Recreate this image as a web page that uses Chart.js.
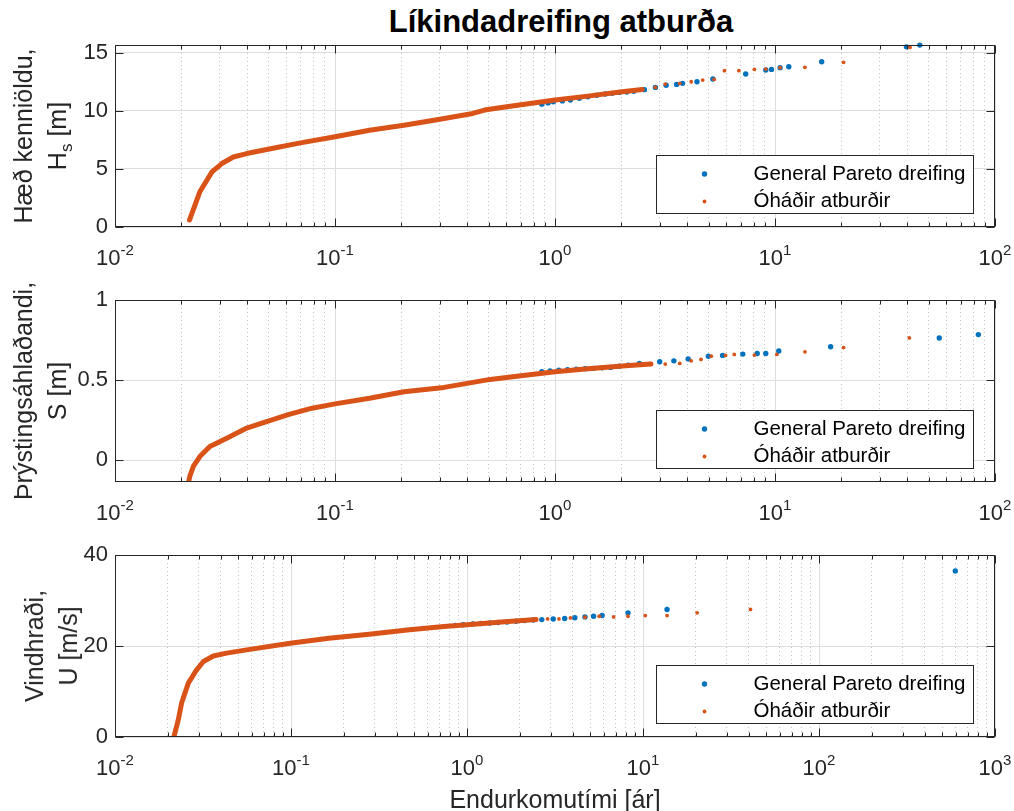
<!DOCTYPE html>
<html>
<head>
<meta charset="utf-8">
<script src="https://cdn.jsdelivr.net/npm/chart.js@4.4.0/dist/chart.umd.min.js"></script>
<style>
  body { margin: 0; background: #fff; width: 1014px; height: 811px; position: relative; overflow: hidden;
         font-family: "Liberation Sans", Arial, sans-serif; }
  canvas { position: absolute; left: 0; top: 0; }
  #title { position: absolute; left: 261px; top: 4px; width: 600px; text-align: center;
           font-weight: bold; font-size: 31px; line-height: 36px; color: #000; }
  #xlab { position: absolute; left: 355px; top: 785px; width: 400px; text-align: center;
          font-size: 25px; line-height: 28px; color: #262626; }
  .ylab { position: absolute; transform: translate(-50%, -50%) rotate(-90deg); white-space: nowrap;
          text-align: center; font-size: 25px; line-height: 34px; color: #262626; }
  .sub { font-size: 17px; vertical-align: -6px; line-height: 0; }
</style>
</head>
<body>
<div id="title">Líkindadreifing atburða</div>
<canvas id="hsChart" width="1014" height="811"></canvas>
<canvas id="sChart" width="1014" height="811"></canvas>
<canvas id="uChart" width="1014" height="811"></canvas>
<div class="ylab" style="left:40px;top:136px">Hæð kenniöldu,<br>H<span class="sub">s</span> [m]</div>
<div class="ylab" style="left:40px;top:391px">Þrýstingsáhlaðandi,<br>S [m]</div>
<div class="ylab" style="left:51px;top:646px">Vindhraði,<br>U [m/s]</div>
<div id="xlab">Endurkomutími [ár]</div>

<script>
// --- gögn lesin af myndinni ---
const legendLabels = ['General Pareto dreifing', 'Óháðir atburðir'];

// Hæð kenniöldu Hs [m]
const hsLineT = [0.0218, 0.0243, 0.0276, 0.0306, 0.0345, 0.0397, 0.0516, 0.0697, 0.1, 0.1435, 0.2057, 0.295, 0.423, 0.478, 0.571, 0.727, 1.0, 1.41, 2.02, 2.49];
const hsLineV = [0.6, 3.03, 4.74, 5.46, 6.02, 6.32, 6.75, 7.24, 7.76, 8.33, 8.76, 9.25, 9.77, 10.06, 10.29, 10.57, 10.92, 11.26, 11.64, 11.84];
const hsObsT = [2.86, 3.17, 3.69, 4.16, 4.69, 5.29, 5.89, 6.85, 8.06, 9.08, 10.55, 13.67, 20.5, 41.1];
const hsObsV = [12.01, 12.30, 12.36, 12.50, 12.64, 12.70, 13.45, 13.45, 13.56, 13.59, 13.71, 13.74, 14.17, 15.45];
const hsGpdT = [0.871, 0.93, 0.982, 1.08, 1.175, 1.29, 1.41, 1.55, 1.69, 1.82, 1.96, 2.12, 2.28, 2.55, 2.86, 3.2, 3.57, 3.8, 4.42, 5.22, 7.36, 9.08, 9.64, 10.55, 11.55, 16.3, 39.6, 45.5];
const hsGpdV = [10.57, 10.68, 10.78, 10.85, 10.92, 11.08, 11.21, 11.33, 11.44, 11.5, 11.58, 11.62, 11.67, 11.82, 12.01, 12.2, 12.27, 12.36, 12.5, 12.73, 13.16, 13.51, 13.56, 13.71, 13.79, 14.22, 15.5, 15.65];
const hsYTicks = [0, 5, 10, 15];

// Þrýstingsáhlaðandi S [m]
const sLineT = [0.0216, 0.0219, 0.0227, 0.0243, 0.027, 0.0322, 0.0397, 0.0458, 0.0618, 0.0787, 0.1, 0.1435, 0.2057, 0.313, 0.399, 0.507, 0.685, 1.0, 1.41, 2.02, 2.73];
const sLineV = [-0.137, -0.10, -0.04, 0.022, 0.085, 0.137, 0.20, 0.228, 0.285, 0.324, 0.351, 0.386, 0.427, 0.454, 0.479, 0.504, 0.525, 0.552, 0.571, 0.587, 0.600];
const sObsT = [3.17, 3.69, 4.16, 4.61, 5.13, 5.96, 6.53, 8.06, 10.2, 13.68, 20.5, 40.8];
const sObsV = [0.600, 0.604, 0.620, 0.629, 0.649, 0.654, 0.660, 0.656, 0.660, 0.676, 0.703, 0.763];
const sGpdT = [0.871, 0.95, 1.04, 1.14, 1.25, 1.37, 1.5, 1.64, 1.79, 1.96, 2.15, 2.42, 2.99, 3.47, 4.03, 4.98, 5.78, 7.14, 8.3, 9.08, 10.4, 17.9, 55.8, 84.0];
const sGpdV = [0.552, 0.557, 0.562, 0.565, 0.568, 0.571, 0.573, 0.576, 0.579, 0.586, 0.593, 0.604, 0.614, 0.620, 0.631, 0.649, 0.654, 0.662, 0.666, 0.666, 0.681, 0.708, 0.763, 0.784];
const sYTicks = [0, 0.5, 1];

// Vindhraði U [m/s]
const uLineT = [0.0216, 0.0229, 0.0239, 0.0261, 0.0291, 0.0318, 0.0362, 0.0431, 0.056, 0.099, 0.164, 0.278, 0.471, 0.74, 1.0, 1.57, 2.47];
const uLineV = [0, 3.8, 7.46, 11.85, 14.77, 16.59, 17.8, 18.43, 19.15, 20.59, 21.71, 22.6, 23.57, 24.31, 24.68, 25.28, 25.8];
const uObsT = [2.87, 3.33, 3.87, 4.68, 5.64, 6.81, 8.22, 10.3, 13.7, 20.3, 40.8];
const uObsV = [25.95, 25.95, 26.17, 26.32, 26.54, 26.40, 26.54, 26.69, 26.69, 27.29, 28.03];
const uGpdT = [0.86, 0.95, 1.08, 1.2, 1.35, 1.5, 1.69, 1.9, 2.12, 2.38, 2.66, 3.09, 3.59, 4.1, 4.68, 5.24, 5.86, 8.22, 13.7, 595];
const uGpdV = [24.53, 24.68, 24.83, 24.95, 25.06, 25.17, 25.28, 25.43, 25.58, 25.7, 25.80, 25.95, 26.03, 26.2, 26.40, 26.54, 26.69, 27.29, 28.03, 36.5];
const uYTicks = [0, 20, 40];

const xExpShort = [-2, -1, 0, 1, 2];
const xExpLong = [-2, -1, 0, 1, 2, 3];

const BLUE = '#0072BD';
const ORANGE = '#D95319';
const AXIS = '#262626';
const FONT = '"Liberation Sans", Arial, sans-serif';

const zip = (xs, ys) => xs.map((x, i) => ({ x: x, y: ys[i] }));
const isDecade = v => Math.abs(Math.log10(v) - Math.round(Math.log10(v))) < 1e-6;

function logTicks(exps) {
  const out = [];
  for (let i = 0; i < exps.length; i++) {
    const p = Math.pow(10, exps[i]);
    out.push(p);
    if (i < exps.length - 1) for (let m = 2; m <= 9; m++) out.push(m * p);
  }
  return out;
}

// MATLAB-legur rammi, strik, 10^n merki og skýringarkassi
function matlabLook(exps) {
  return {
    id: 'matlabLook',
    afterDraw(chart) {
      const { ctx, chartArea: a, scales: { x, y } } = chart;
      ctx.save();
      ctx.strokeStyle = AXIS;
      ctx.lineWidth = 1;
      const L = Math.round(a.left) + 0.5, R = Math.round(a.right) - 0.5;
      const T = Math.round(a.top) + 0.5, B = Math.round(a.bottom) - 0.5;
      ctx.strokeRect(L, T, R - L, B - T);

      ctx.beginPath();
      x.ticks.forEach(t => {
        const px = Math.round(x.getPixelForValue(t.value)) + 0.5;
        const len = isDecade(t.value) ? 8 : 4;
        ctx.moveTo(px, B); ctx.lineTo(px, B - len);
        ctx.moveTo(px, T); ctx.lineTo(px, T + len);
      });
      y.ticks.forEach(t => {
        const py = Math.round(y.getPixelForValue(t.value)) + 0.5;
        ctx.moveTo(L, py); ctx.lineTo(L + 8, py);
        ctx.moveTo(R, py); ctx.lineTo(R - 8, py);
      });
      ctx.stroke();

      // 10^n merki
      ctx.fillStyle = AXIS;
      ctx.textAlign = 'left';
      ctx.textBaseline = 'alphabetic';
      exps.forEach(e => {
        const px = x.getPixelForValue(Math.pow(10, e));
        const sup = String(e);
        ctx.font = '22px ' + FONT;
        const wb = ctx.measureText('10').width;
        ctx.font = '15px ' + FONT;
        const ws = ctx.measureText(sup).width;
        const left = px - (wb + ws) / 2;
        const by = a.bottom + 38;
        ctx.font = '22px ' + FONT;
        ctx.fillText('10', left, by);
        ctx.font = '15px ' + FONT;
        ctx.fillText(sup, left + wb, by - 10);
      });

      // skýringar
      const w = 317, h = 58;
      const x0 = Math.round(a.right - 22 - w) + 0.5, y0 = Math.round(a.bottom - 14 - h) + 0.5;
      ctx.fillStyle = '#fff';
      ctx.fillRect(x0, y0, w, h);
      ctx.strokeStyle = AXIS;
      ctx.strokeRect(x0, y0, w, h);
      const rows = [y0 + 18.5, y0 + 46];
      const cols = [BLUE, ORANGE];
      const rads = [2.7, 1.9];
      ctx.font = '20.5px ' + FONT;
      ctx.textBaseline = 'middle';
      legendLabels.forEach((lbl, i) => {
        ctx.fillStyle = cols[i];
        ctx.beginPath();
        ctx.arc(x0 + 48, rows[i], rads[i], 0, Math.PI * 2);
        ctx.fill();
        ctx.fillStyle = '#000';
        ctx.fillText(lbl, x0 + 97, rows[i]);
      });
      ctx.restore();
    }
  };
}

function makePanel(id, p) {
  new Chart(document.getElementById(id), {
    type: 'scatter',
    data: {
      datasets: [
        { data: zip(p.lineT, p.lineV), showLine: true, borderColor: ORANGE, borderWidth: 5,
          borderCapStyle: 'round', borderJoinStyle: 'round', pointRadius: 0, order: 1 },
        { data: zip(p.obsT, p.obsV), pointBackgroundColor: ORANGE, pointBorderWidth: 0,
          pointRadius: 1.9, order: 0, clip: false },
        { data: zip(p.gpdT, p.gpdV), pointBackgroundColor: BLUE, pointBorderWidth: 0,
          pointRadius: 2.7, order: 2, clip: false }
      ]
    },
    options: {
      responsive: false,
      animation: false,
      events: [],
      layout: { padding: { left: 55, right: 19, top: p.top, bottom: 811 - p.bottom } },
      plugins: { legend: { display: false }, tooltip: { enabled: false }, title: { display: false } },
      scales: {
        x: {
          type: 'logarithmic',
          min: Math.pow(10, p.exps[0]),
          max: Math.pow(10, p.exps[p.exps.length - 1]),
          afterBuildTicks: s => { s.ticks = logTicks(p.exps).map(v => ({ value: v })); },
          afterFit: s => { s.height = 0; },
          ticks: { display: false },
          grid: {
            drawTicks: false,
            lineWidth: 1,
            color: c => (c.tick && !isDecade(c.tick.value)) ? '#c4c4c4' : '#dedede'
          },
          border: { display: false, dash: c => (c.tick && !isDecade(c.tick.value)) ? [1, 3] : [] }
        },
        y: {
          type: 'linear',
          min: p.ymin,
          max: p.ymax,
          afterBuildTicks: s => { s.ticks = p.yTicks.map(v => ({ value: v })); },
          afterFit: s => { s.width = 60; },
          ticks: { padding: 7, color: AXIS, font: { family: FONT, size: 22 }, callback: v => String(v) },
          grid: { drawTicks: false, color: '#dedede', lineWidth: 1 },
          border: { display: false }
        }
      }
    },
    plugins: [matlabLook(p.exps)]
  });
}

makePanel('hsChart', { lineT: hsLineT, lineV: hsLineV, obsT: hsObsT, obsV: hsObsV, gpdT: hsGpdT, gpdV: hsGpdV,
  yTicks: hsYTicks, ymin: 0, ymax: 15.66, exps: xExpShort, top: 45, bottom: 227 });
makePanel('sChart', { lineT: sLineT, lineV: sLineV, obsT: sObsT, obsV: sObsV, gpdT: sGpdT, gpdV: sGpdV,
  yTicks: sYTicks, ymin: -0.137, ymax: 1, exps: xExpShort, top: 300, bottom: 482 });
makePanel('uChart', { lineT: uLineT, lineV: uLineV, obsT: uObsT, obsV: uObsV, gpdT: uGpdT, gpdV: uGpdV,
  yTicks: uYTicks, ymin: 0, ymax: 40, exps: xExpLong, top: 555, bottom: 737 });
</script>
</body>
</html>
